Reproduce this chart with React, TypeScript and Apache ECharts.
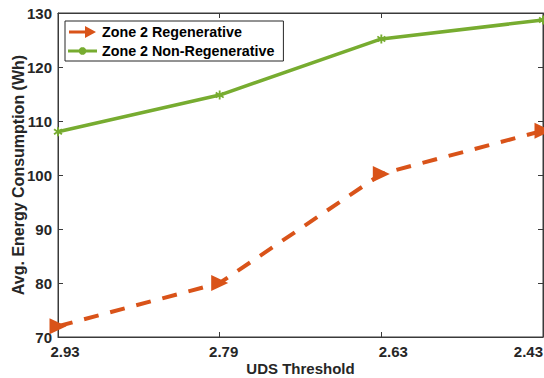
import React, { useEffect, useRef } from "react";
import * as echarts from "echarts";

const categories = ["2.93", "2.79", "2.63", "2.43"];
const regenerative = [72.0, 80.0, 100.2, 108.2];
const nonRegenerative = [108.0, 114.8, 125.2, 128.7];
const yTicks = { min: 70, max: 130, interval: 10 };

const asterisk =
  "path://M4,0 L6,0 L6,3.3 L8.6,1.4 L9.8,3 L7,5 L9.8,7 L8.6,8.6 L6,6.7 L6,10 L4,10 L4,6.7 L1.4,8.6 L0.2,7 L3,5 L0.2,3 L1.4,1.4 L4,3.3 Z";
const arrowIcon = "path://M0,4.5 L16,4.5 L16,0 L27,6 L16,12 L16,7.5 L0,7.5 Z";
const greenIcon =
  "path://M0,4.5 L30,4.5 L30,7.5 L0,7.5 Z M13.5,2 L16.5,2 L18.5,4 L18.5,8 L16.5,10 L13.5,10 L11.5,8 L11.5,4 Z";

export default function App() {
  const ref = useRef<HTMLDivElement>(null);
  useEffect(() => {
    const chart = echarts.init(ref.current!, null, { renderer: "svg" });
    const axisColor = "#3a3a3a";
    const font = "Liberation Sans, Arial, Helvetica, sans-serif";
    const labelStyle = {
      color: "#262626",
      fontFamily: font,
      fontWeight: "bold" as const,
      fontSize: 15,
    };
    const tickStyle = { show: true, inside: true, length: 5, lineStyle: { color: axisColor } };
    chart.setOption({
      animation: false,
      backgroundColor: "#ffffff",
      grid: {
        left: 58,
        right: 1,
        top: 13,
        bottom: 41,
        containLabel: false,
        outerBoundsMode: "none",
        show: true,
        borderColor: axisColor,
        borderWidth: 1,
      },
      legend: {
        orient: "vertical",
        left: 65,
        top: 21,
        backgroundColor: "#ffffff",
        borderColor: "#262626",
        borderWidth: 1,
        borderRadius: 0,
        padding: [4, 9, 3, 3],
        itemGap: 5,
        itemWidth: 29,
        itemHeight: 12,
        textStyle: {
          color: "#000",
          fontFamily: font,
          fontWeight: "bold",
          fontSize: 14.3,
        },
        data: [
          { name: "Zone 2 Regenerative", icon: arrowIcon },
          { name: "Zone 2 Non-Regenerative", icon: greenIcon },
        ],
      },
      xAxis: [
        {
          type: "category",
          data: categories,
          boundaryGap: false,
          axisLine: { show: true, lineStyle: { color: axisColor, width: 1 } },
          axisTick: tickStyle,
          axisLabel: {
            ...labelStyle,
            margin: 7,
            interval: 0,
            hideOverlap: false,
            alignMaxLabel: "right",
            formatter: (v: string, i: number) => `{l${i}|${v}}`,
            rich: {
              l0: { ...labelStyle, padding: [0, 0, 0, 14] },
              l1: { ...labelStyle, padding: [0, 0, 0, 8] },
              l2: { ...labelStyle, padding: [0, 0, 0, 24] },
              l3: { ...labelStyle },
            },
          },
          splitLine: { show: false },
          name: "UDS Threshold",
          nameLocation: "middle",
          nameGap: 24,
          nameMoveOverlap: false,
          nameTextStyle: { ...labelStyle, fontSize: 15 },
        },
        {
          type: "category",
          data: categories,
          position: "top",
          boundaryGap: false,
          axisLine: { show: true, lineStyle: { color: axisColor, width: 1 } },
          axisTick: tickStyle,
          axisLabel: { show: false },
          splitLine: { show: false },
        },
      ],
      yAxis: [
        {
          type: "value",
          min: yTicks.min,
          max: yTicks.max,
          interval: yTicks.interval,
          axisLine: { show: true, lineStyle: { color: axisColor, width: 1 } },
          axisTick: tickStyle,
          axisLabel: { ...labelStyle, margin: 6 },
          splitLine: { show: false },
          name: "Avg. Energy Consumption (Wh)",
          nameLocation: "middle",
          nameGap: 32,
          nameMoveOverlap: false,
          nameTextStyle: { ...labelStyle, fontSize: 16 },
        },
        {
          type: "value",
          position: "right",
          min: yTicks.min,
          max: yTicks.max,
          interval: yTicks.interval,
          axisLine: { show: true, lineStyle: { color: axisColor, width: 1 } },
          axisTick: tickStyle,
          axisLabel: { show: false },
          splitLine: { show: false },
        },
      ],
      series: [
        {
          name: "Zone 2 Regenerative",
          type: "line",
          data: regenerative,
          color: "#D95319",
          lineStyle: { color: "#D95319", width: 4, type: [15, 12], cap: "butt" },
          symbol: "triangle",
          symbolRotate: -90,
          symbolSize: [16, 17],
          itemStyle: { color: "#D95319" },
          z: 3,
        },
        {
          name: "Zone 2 Non-Regenerative",
          type: "line",
          data: nonRegenerative,
          color: "#77AC30",
          lineStyle: { color: "#77AC30", width: 3.5 },
          symbol: asterisk,
          symbolSize: 9,
          itemStyle: { color: "#77AC30" },
          z: 2,
        },
      ],
    });
    return () => chart.dispose();
  }, []);
  return <div ref={ref} style={{ width: 544, height: 378, position: "absolute", left: 0, top: 0 }} />;
}
